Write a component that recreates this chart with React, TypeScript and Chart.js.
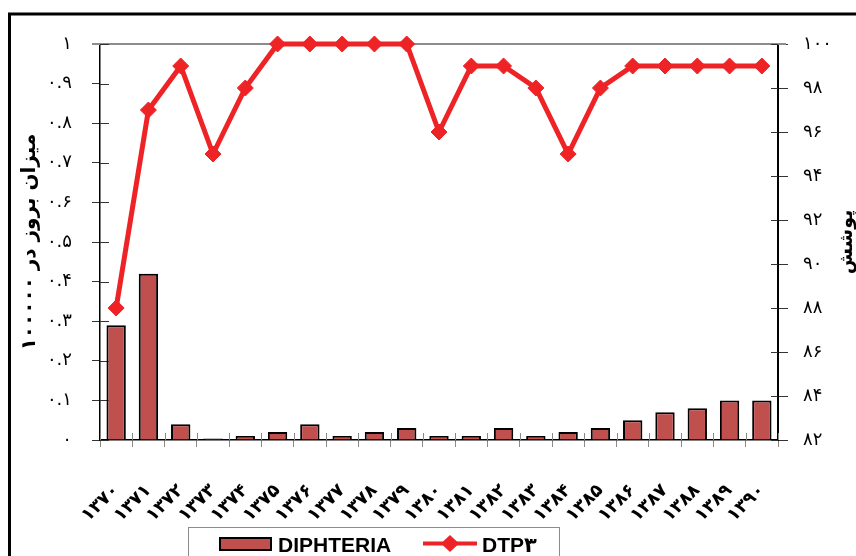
import React, { useEffect, useRef } from 'react';
import { Chart, registerables } from 'chart.js';

Chart.register(...registerables);

const years = ['۱۳۷۰', '۱۳۷۱', '۱۳۷۲', '۱۳۷۳', '۱۳۷۴', '۱۳۷۵', '۱۳۷۶', '۱۳۷۷', '۱۳۷۸', '۱۳۷۹', '۱۳۸۰', '۱۳۸۱', '۱۳۸۲', '۱۳۸۳', '۱۳۸۴', '۱۳۸۵', '۱۳۸۶', '۱۳۸۷', '۱۳۸۸', '۱۳۸۹', '۱۳۹۰'];
const diphtheria = [0.29, 0.42, 0.04, 0.004, 0.01, 0.02, 0.04, 0.01, 0.02, 0.03, 0.01, 0.01, 0.03, 0.01, 0.02, 0.03, 0.05, 0.07, 0.08, 0.1, 0.1];
const dtp3 = [88, 97, 99, 95, 98, 100, 100, 100, 100, 100, 96, 99, 99, 98, 95, 98, 99, 99, 99, 99, 99];
const leftTickLabels = ['۰', '۰.۱', '۰.۲', '۰.۳', '۰.۴', '۰.۵', '۰.۶', '۰.۷', '۰.۸', '۰.۹', '۱'];
const rightTickLabels = ['۸۲', '۸۴', '۸۶', '۸۸', '۹۰', '۹۲', '۹۴', '۹۶', '۹۸', '۱۰۰'];
const leftTitle = 'میزان بروز در ۱۰۰۰۰۰';
const rightTitle = 'پوشش';
const barLabel = 'DIPHTERIA';
const lineLabel = 'DTP۳';

const BAR_COLOR = '#C0504D';
const LINE_COLOR = '#EE2326';
const FONT = '"DejaVu Sans", sans-serif';

const framePlugin = {
  id: 'frame',
  beforeDraw(chart: any) {
    const { ctx, width, height } = chart;
    ctx.save();
    ctx.fillStyle = '#ffffff';
    ctx.fillRect(0, 0, width, height);
    ctx.strokeStyle = '#000000';
    ctx.lineWidth = 3;
    ctx.strokeRect(9.5, 14, width + 20, height + 20);
    ctx.restore();
  },
};

const decorPlugin = {
  id: 'decor',
  beforeDatasetsDraw(chart: any) {
    const { ctx, chartArea, scales } = chart;
    ctx.save();
    // top gray border
    ctx.strokeStyle = '#8c8c8c';
    ctx.lineWidth = 2;
    ctx.beginPath();
    ctx.moveTo(chartArea.left - 8, chartArea.top);
    ctx.lineTo(chartArea.right + 8, chartArea.top);
    ctx.stroke();
    // inner halves of ticks
    ctx.strokeStyle = '#333333';
    ctx.lineWidth = 1;
    const yl = scales.y;
    yl.ticks.forEach((_t: any, i: number) => {
      const py = Math.round(yl.getPixelForTick(i)) + 0.5;
      ctx.beginPath();
      ctx.moveTo(chartArea.left, py);
      ctx.lineTo(chartArea.left + 9, py);
      ctx.stroke();
    });
    const yr = scales.y1;
    yr.ticks.forEach((_t: any, i: number) => {
      const py = Math.round(yr.getPixelForTick(i)) + 0.5;
      ctx.beginPath();
      ctx.moveTo(chartArea.right - 7, py);
      ctx.lineTo(chartArea.right, py);
      ctx.stroke();
    });
    const x = scales.x;
    ctx.strokeStyle = '#888888';
    for (let i = 0; i <= years.length; i++) {
      const px = Math.round(x.getPixelForValue(i - 0.5)) + 0.5;
      ctx.beginPath();
      ctx.moveTo(px, chartArea.bottom - 7);
      ctx.lineTo(px, chartArea.bottom);
      ctx.stroke();
    }
    ctx.restore();
  },
  afterDraw(chart: any) {
    // right axis title, reading bottom-to-top like the left one
    const { ctx, chartArea } = chart;
    ctx.save();
    ctx.translate(847, (chartArea.top + chartArea.bottom) / 2);
    ctx.rotate(-Math.PI / 2);
    ctx.fillStyle = '#000000';
    ctx.font = 'bold 19px ' + FONT;
    ctx.textAlign = 'center';
    ctx.textBaseline = 'middle';
    ctx.fillText(rightTitle, 0, 0);
    ctx.restore();
  },
};

const legendPlugin = {
  id: 'customLegend',
  afterDraw(chart: any) {
    const { ctx } = chart;
    const ds = chart.data.datasets;
    ctx.save();
    ctx.strokeStyle = '#8c8c8c';
    ctx.lineWidth = 1;
    ctx.strokeRect(188.5, 527.5, 371, 60);
    // bar item
    ctx.fillStyle = ds[1].backgroundColor;
    ctx.fillRect(220, 538, 51, 12);
    ctx.strokeStyle = '#000000';
    ctx.lineWidth = 2;
    ctx.strokeRect(220, 538, 51, 12);
    ctx.fillStyle = '#000000';
    ctx.font = 'bold 21px "Liberation Sans", "DejaVu Sans", sans-serif';
    ctx.textBaseline = 'alphabetic';
    ctx.textAlign = 'left';
    ctx.fillText(ds[1].label, 278, 552);
    // line item
    ctx.strokeStyle = ds[0].borderColor;
    ctx.lineWidth = 4;
    ctx.beginPath();
    ctx.moveTo(423, 543.5);
    ctx.lineTo(477, 543.5);
    ctx.stroke();
    ctx.fillStyle = ds[0].borderColor;
    ctx.beginPath();
    ctx.moveTo(441, 543.5);
    ctx.lineTo(450, 535);
    ctx.lineTo(459, 543.5);
    ctx.lineTo(450, 552);
    ctx.closePath();
    ctx.fill();
    ctx.fillStyle = '#000000';
    ctx.fillText(ds[0].label, 482, 552);
    ctx.restore();
  },
};

export default function App() {
  const ref = useRef<HTMLCanvasElement | null>(null);
  useEffect(() => {
    if (!ref.current) return;
    const chart = new Chart(ref.current, {
      type: 'bar',
      data: {
        labels: years,
        datasets: [
          {
            type: 'line',
            label: lineLabel,
            data: dtp3,
            yAxisID: 'y1',
            borderColor: LINE_COLOR,
            backgroundColor: LINE_COLOR,
            borderWidth: 5,
            pointStyle: 'rectRot',
            pointRadius: 8,
            pointBorderWidth: 1,
            pointBackgroundColor: LINE_COLOR,
            pointBorderColor: LINE_COLOR,
            tension: 0,
            clip: false,
            order: 0,
          } as any,
          {
            type: 'bar',
            label: barLabel,
            data: diphtheria,
            yAxisID: 'y',
            backgroundColor: BAR_COLOR,
            borderColor: '#000000',
            borderWidth: 2,
            barPercentage: 0.6,
            categoryPercentage: 1,
            order: 1,
          } as any,
        ],
      },
      options: {
        responsive: false,
        animation: false,
        layout: { padding: { top: 44, left: 0, right: 0, bottom: 0 } },
        plugins: {
          legend: { display: false },
          tooltip: { enabled: false },
        },
        scales: {
          x: {
            offset: true,
            grid: {
              display: true,
              drawOnChartArea: false,
              offset: true,
              tickLength: 7,
              color: '#888888',
            },
            border: { display: true, color: '#000000', width: 1.5 },
            ticks: {
              autoSkip: false,
              minRotation: 45,
              maxRotation: 45,
              padding: 33,
              color: '#000000',
              font: { family: FONT, size: 18, weight: 'bold' },
            },
            afterFit: (s: any) => {
              s.height = 116;
            },
          },
          y: {
            position: 'left',
            min: 0,
            max: 1,
            ticks: {
              stepSize: 0.1,
              padding: 20,
              color: '#000000',
              font: { family: FONT, size: 18 },
              callback: (_v: any, i: number) => leftTickLabels[i],
            },
            grid: { drawOnChartArea: false, tickLength: 8, color: '#333333' },
            border: { display: true, color: '#000000', width: 1.5 },
            title: {
              display: true,
              text: leftTitle,
              color: '#000000',
              font: { family: FONT, size: 20, weight: 'bold', lineHeight: 1 },
              padding: { top: 20, bottom: 0 },
            },
            afterFit: (s: any) => {
              s.width = 100;
            },
          },
          y1: {
            position: 'right',
            min: 82,
            max: 100,
            ticks: {
              stepSize: 2,
              padding: 15,
              color: '#000000',
              font: { family: FONT, size: 18 },
              callback: (_v: any, i: number) => rightTickLabels[i],
            },
            grid: { drawOnChartArea: false, tickLength: 10, color: '#333333' },
            border: { display: true, color: '#000000', width: 2 },
            title: { display: false },
            afterFit: (s: any) => {
              s.width = 78;
            },
          },
        },
      } as any,
      plugins: [framePlugin, decorPlugin, legendPlugin],
    });
    return () => chart.destroy();
  }, []);
  return (
    <div style={{ position: 'absolute', left: 0, top: 0, width: 856, height: 556 }}>
      <canvas ref={ref} width={856} height={556} style={{ display: 'block' }} />
    </div>
  );
}
